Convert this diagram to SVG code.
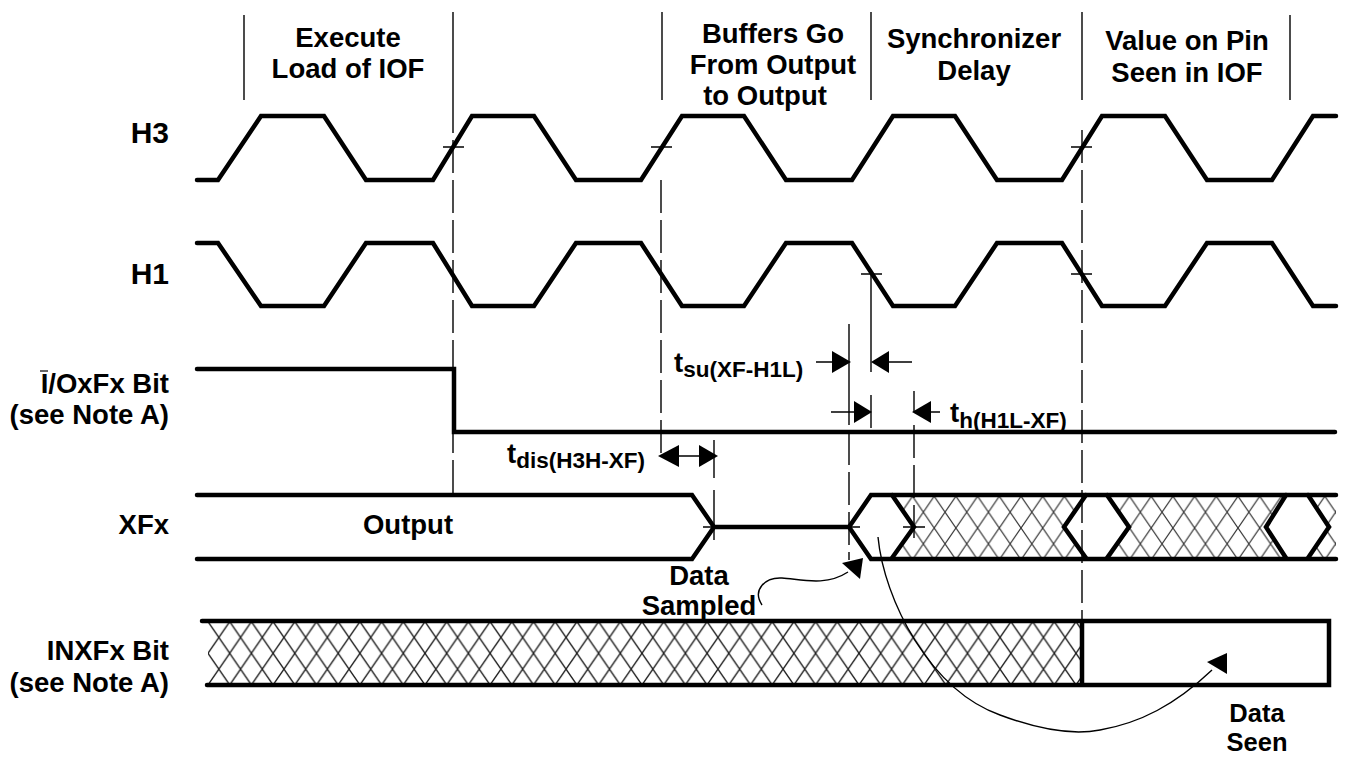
<svg xmlns="http://www.w3.org/2000/svg" width="1345" height="758" viewBox="0 0 1345 758">
<style>
.w{fill:none;stroke:#000;stroke-width:4.5;stroke-linejoin:miter;stroke-linecap:round}
.t{fill:none;stroke:#000;stroke-width:1.4}
.d{fill:none;stroke:#000;stroke-width:1.4;stroke-dasharray:33 7}
.a{fill:#000;stroke:none}
text{font-family:"Liberation Sans",Arial,sans-serif;font-weight:700;font-size:27.5px;fill:#000}
.m{text-anchor:middle}.e{text-anchor:end}
.s{font-size:22.5px}
.n{font-size:25.5px}
.h{font-size:30px}
</style>
<defs>
<pattern id="hatch" width="21.7" height="31.7" patternUnits="userSpaceOnUse" patternTransform="translate(208 621.6)">
<path d="M0 0L21.7 31.7M21.7 0L0 31.7" fill="none" stroke="#1a1a1a" stroke-width="1.3"/>
</pattern>
<pattern id="hatch2" width="21.7" height="31.7" patternUnits="userSpaceOnUse" patternTransform="translate(912.5 496.3)">
<path d="M0 0L21.7 31.7M21.7 0L0 31.7" fill="none" stroke="#333" stroke-width="1.2"/>
</pattern>
</defs>
<rect width="1345" height="758" fill="#fff"/>
<g id="hatching">
<polygon points="892,496 1086,496 1064,527 1086,558 892,558 914,527" fill="url(#hatch2)"/>
<polygon points="1107,496 1286,496 1266,527 1286,558 1107,558 1129,527" fill="url(#hatch2)"/>
<polygon points="1308,496 1336,496 1336,558 1308,558 1329,527" fill="url(#hatch2)"/>
<rect x="208" y="622" width="874" height="62" fill="url(#hatch)"/>
</g>
<g id="connectors">
<path class="t" d="M244 15V100M453 12V100M662 12V100M871 12V100M1082 12V100M1290 15V100"/>
<path class="d" d="M453 100V495M661 180V460M1082 130V620"/>
<path class="t" d="M714 440V478M714 490V540M849 324V392M871 270V372M871 395V428M914 391V412"/>
<path class="d" d="M849 392V560M914 425V540"/>
<path class="t" d="M443 147H464M651 147H672M1071 147H1092M861 274H882M1071 274H1092M703 527H725M840 527H860M903 527H925"/>
<path class="t" d="M816 362H846M875 362H912M831 412H870M916 412H940M662 456H714"/>
<polygon class="a" points="832,351 851,362 832,373"/><polygon class="a" points="871,362 889,351 889,373"/>
<polygon class="a" points="854,401 872,412 854,423"/><polygon class="a" points="912,412 931,401 931,423"/>
<polygon class="a" points="658,456 679,445 679,467"/><polygon class="a" points="699,445 718,456 699,467"/>
<path class="t" d="M762 605C752 590 765 577 782 578C800 579 825 587 848 572"/>
<polygon class="a" points="863,558 860,579 842,563"/>
<path class="t" d="M878 537C884 600 930 690 1000 715C1040 730 1075 735 1100 730C1140 723 1175 705 1212 670"/>
<polygon class="a" points="1227,653 1227,674 1207,662"/>
</g>
<g id="H3"><polyline class="w" points="197,180 218,180 261,116 324,116 366,180 433,180 472,116 534,116 576,180 641,180 682,116 744,116 786,180 852,180 893,116 955,116 997,180 1062,180 1102,116 1165,116 1207,180 1272,180 1313,116 1336,116"/></g>
<g id="H1"><polyline class="w" points="197,243 218,243 261,306 324,306 366,243 433,243 472,306 534,306 576,243 641,243 682,306 744,306 786,243 852,243 893,306 955,306 997,243 1062,243 1102,306 1165,306 1207,243 1272,243 1313,306 1336,306"/></g>
<g id="IOXFx"><polyline class="w" points="197,369 454,369 454,432 1335,432"/></g>
<g id="XFx">
<path class="w" d="M197 495H692L714 527L692 559H197M714 527H849L871 495H1336M849 527L871 559H1336"/>
<path class="w" d="M892 495L914 527L892 558M1086 495L1064 527L1086 558M1107 495L1129 527L1107 558M1286 495L1266 527L1286 558M1308 495L1329 527L1308 558"/>
</g>
<g id="INXFx">
<path class="w" d="M202 621H1329V685H207M1082 621V685"/>
</g>
<g id="labels">
<text class="m" x="348" y="47">Execute</text>
<text class="m" x="348" y="78">Load of IOF</text>
<text class="m" x="773" y="43">Buffers Go</text>
<text class="m" x="773" y="74">From Output</text>
<text class="m" x="765" y="105">to Output</text>
<text class="m" x="974" y="48">Synchronizer</text>
<text class="m" x="974" y="80">Delay</text>
<text class="m" x="1187" y="50">Value on Pin</text>
<text class="m" x="1187" y="82">Seen in IOF</text>
<text class="e h" x="169" y="143">H3</text>
<text class="e h" x="169" y="284">H1</text>
<text class="e" x="169" y="393">I/OxFx Bit</text>
<path d="M40 371H48" stroke="#333" stroke-width="1.5"/>
<text class="e" x="169" y="424">(see Note A)</text>
<text class="e" x="169" y="534">XFx</text>
<text class="e" x="169" y="660">INXFx Bit</text>
<text class="e" x="169" y="692">(see Note A)</text>
<text class="m" x="408" y="534">Output</text>
<text class="m" x="699" y="585">Data</text>
<text class="m" x="699" y="615">Sampled</text>
<text class="m n" x="1257" y="722">Data</text>
<text class="m n" x="1257" y="751">Seen</text>
<text x="674" y="372">t<tspan class="s" dy="5">su(XF-H1L)</tspan></text>
<text x="950" y="422">t<tspan class="s" dy="6">h(H1L-XF)</tspan></text>
<text x="507" y="463">t<tspan class="s" dy="5">dis(H3H-XF)</tspan></text>
</g>
</svg>
